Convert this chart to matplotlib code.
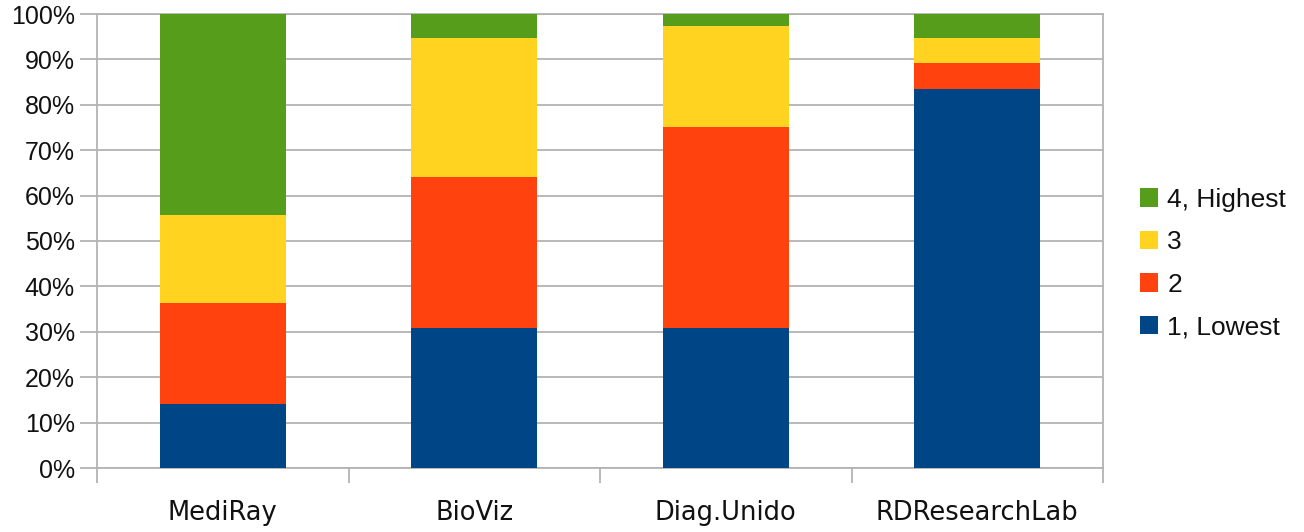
import numpy as np
import matplotlib
matplotlib.use("Agg")
import matplotlib.pyplot as plt
from matplotlib.ticker import FixedLocator, PercentFormatter

# --------------------------
# Data (percent of each rating per group)
# --------------------------
groups = ["MediRay", "BioViz", "Diag.Unido", "RDResearchLab"]
lowest = [14.2, 30.8, 30.8, 83.5]    # 1, Lowest
two = [22.1, 33.2, 44.3, 5.7]        # 2
three = [19.5, 30.8, 22.3, 5.6]      # 3
highest = [44.2, 5.2, 2.6, 5.2]      # 4, Highest

series = [lowest, two, three, highest]
labels = ["1, Lowest", "2", "3", "4, Highest"]
colors = ["#004586", "#ff420e", "#ffd320", "#579d1c"]
grid_col = "#b3b3b3"

# --------------------------
# Plot
# --------------------------
fig = plt.figure(figsize=(13.04, 5.32), dpi=100)
ax = fig.add_axes([97 / 1304, 64 / 532, 1006 / 1304, 454 / 532])

x = np.arange(len(groups))
bottom = np.zeros(len(groups))
handles = []
for vals, lab, col in zip(series, labels, colors):
    h = ax.bar(x, vals, width=0.5, bottom=bottom, color=col, label=lab, zorder=3)
    handles.append(h)
    bottom += np.array(vals)

ax.set_xlim(-0.5, len(groups) - 0.5)
ax.set_ylim(0, 100)
ax.yaxis.set_major_locator(FixedLocator(np.arange(0, 101, 10)))
ax.yaxis.set_major_formatter(PercentFormatter(decimals=0))
ax.grid(axis="y", color=grid_col, linewidth=1.3, zorder=0)

ax.set_xticks(x)
ax.set_xticklabels(groups, fontsize=18.5, family="DejaVu Sans", color="#111111")
ax.tick_params(axis="x", which="major", length=0, pad=23)
ax.set_xticks(np.arange(-0.5, len(groups), 1.0), minor=True)
ax.tick_params(axis="x", which="minor", length=11, color=grid_col, width=1.3)
ax.tick_params(axis="y", length=12, color=grid_col, width=1.3, pad=4)
for t in ax.get_yticklabels():
    t.set_fontsize(18)
    t.set_family("Liberation Sans")
    t.set_color("#111111")

for s in ax.spines.values():
    s.set_color(grid_col)
    s.set_linewidth(1.3)

fig.legend(handles[::-1], labels[::-1], loc="center left",
           bbox_to_anchor=(1140 / 1304, 1 - 263.5 / 532), frameon=False,
           prop={"family": "Liberation Sans", "size": 19}, labelcolor="#111111",
           handlelength=0.68, handleheight=0.68, handletextpad=0.36,
           labelspacing=0.7, borderpad=0, borderaxespad=0)

plt.savefig("out.png", dpi=100)
